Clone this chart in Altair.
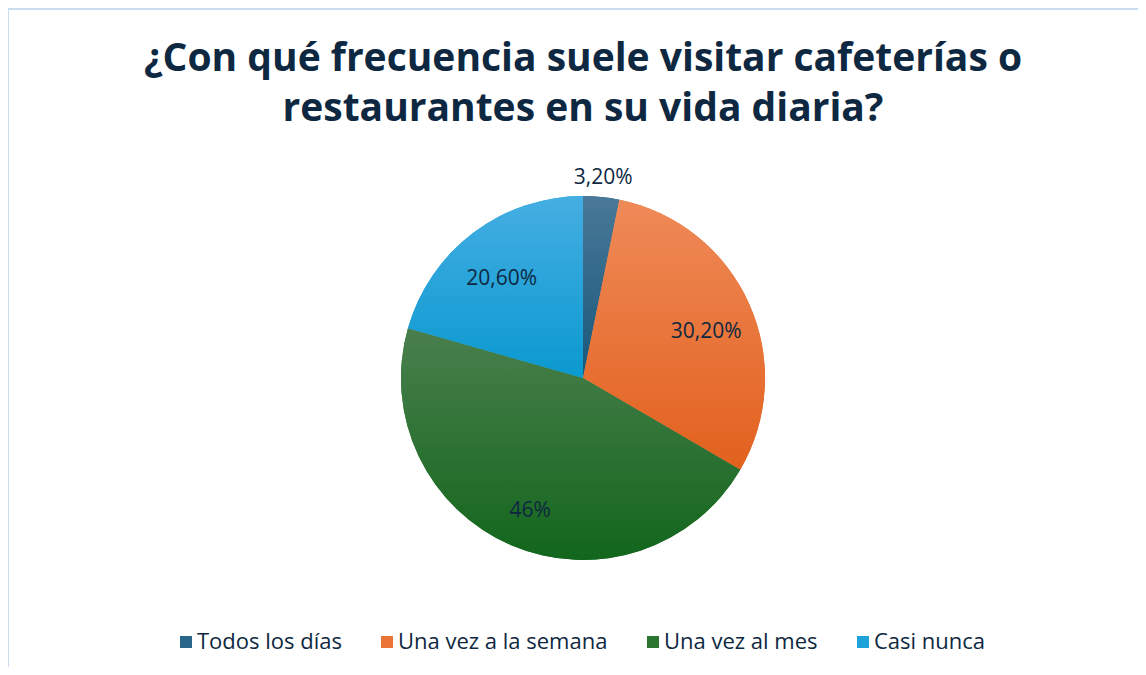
import altair as alt
import pandas as pd

categories = ["Todos los días", "Una vez a la semana", "Una vez al mes", "Casi nunca"]
values = [3.2, 30.2, 46.0, 20.6]
labels = ["3,20%", "30,20%", "46%", "20,60%"]
base_colors = ["#2A6689", "#EA7436", "#2A7530", "#1DA3DA"]
top_colors = ["#4A7898", "#EF8A58", "#4A7F4D", "#45AEE2"]
bottom_colors = ["#17587A", "#E2611E", "#12661C", "#0A99D0"]
title_lines = ["¿Con qué frecuencia suele visitar cafeterías o",
               "restaurantes en su vida diaria?"]

df = pd.DataFrame({"cat": categories, "value": values, "label": labels,
                   "order": list(range(len(categories)))})

W, H = 1130, 659
CX, CY = 575, 370
R = 182
FONT = "Open Sans"
TXT = "#0E2841"

base = alt.Chart(df).transform_window(
    cum="sum(value)", sort=[alt.SortField("order")], frame=[None, 0]
).transform_calculate(
    start="datum.cum - datum.value", mid="datum.cum - datum.value / 2"
)

theta_scale = alt.Scale(domain=[0, 100], range=[0, 6.283185307179586])

legend_layer = base.mark_arc(radius=R).encode(
    x=alt.value(CX), y=alt.value(CY),
    theta=alt.Theta("start:Q", scale=theta_scale, stack=None),
    theta2="cum:Q",
    color=alt.Color("cat:N", scale=alt.Scale(domain=categories, range=base_colors),
                    legend=alt.Legend(title=None, orient="none", legendX=167, legendY=623,
                                      direction="horizontal", symbolType="square",
                                      symbolSize=144, symbolStrokeWidth=0, symbolOpacity=1,
                                      labelFontSize=22, labelColor=TXT, labelFont=FONT,
                                      labelOffset=0, labelLimit=400, columnPadding=34)),
)

layers = [legend_layer]
for i, c in enumerate(categories):
    grad = alt.Gradient(gradient="linear", x1=0, y1=0, x2=0, y2=1,
                        stops=[alt.GradientStop(color=top_colors[i], offset=0),
                               alt.GradientStop(color=bottom_colors[i], offset=1)])
    layers.append(
        base.transform_filter(alt.datum.cat == c).mark_arc(radius=R, fill=grad).encode(
            x=alt.value(CX), y=alt.value(CY),
            theta=alt.Theta("start:Q", scale=theta_scale, stack=None),
            theta2="cum:Q",
        )
    )

text_in = base.transform_filter("datum.value >= 5").mark_text(
    radius=135, dy=9, fontSize=21, color=TXT, font=FONT, align="center", baseline="middle"
).encode(
    x=alt.value(CX), y=alt.value(CY),
    theta=alt.Theta("mid:Q", scale=theta_scale, stack=None),
    text="label:N",
)
text_out = base.transform_filter("datum.value < 5").mark_text(
    radius=201, fontSize=21, color=TXT, font=FONT, align="center", baseline="middle"
).encode(
    x=alt.value(CX), y=alt.value(CY),
    theta=alt.Theta("mid:Q", scale=theta_scale, stack=None),
    text="label:N",
)

title_df = pd.DataFrame({"k": [0]})
title = alt.Chart(title_df).mark_text(
    text=title_lines, fontSize=39, fontWeight="bold", font=FONT, color=TXT,
    align="center", baseline="middle", lineHeight=50
).encode(x=alt.value(CX), y=alt.value(51))

border_top = alt.Chart(title_df).mark_rule(color="#C9DDF1", strokeWidth=2).encode(
    x=alt.value(0), x2=alt.value(W + 20), y=alt.value(1))
border_left = alt.Chart(title_df).mark_rule(color="#C9DDF1", strokeWidth=2).encode(
    x=alt.value(0), y=alt.value(1), y2=alt.value(H + 20))

chart = alt.layer(border_top, border_left, *layers, text_in, text_out, title).properties(
    width=W, height=H, autosize="none", padding=0
).configure_view(stroke=None)

chart.save("out.html", embed_options={"renderer": "svg", "actions": False})
